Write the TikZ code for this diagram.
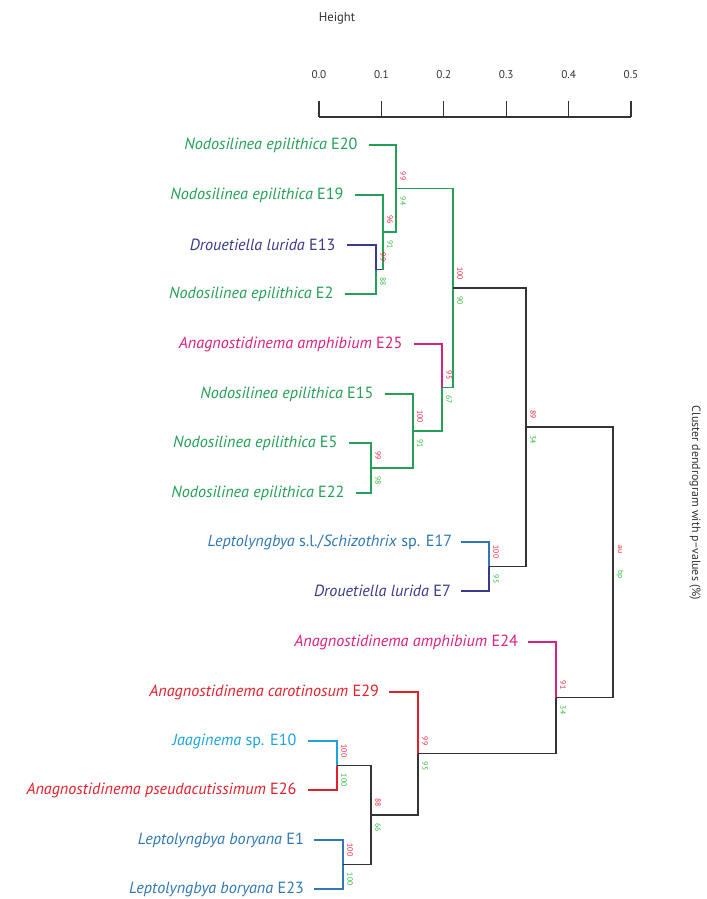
\documentclass[tikz,border=0pt]{standalone}
\usepackage{fontspec}
\setmainfont{PT Sans}
\usetikzlibrary{positioning, calc}

\definecolor{nodogreen}{HTML}{23A055}
\definecolor{droublue}{HTML}{3A3A8C}
\definecolor{anamag}{HTML}{D9217F}
\definecolor{leptoblue}{HTML}{2F78B8}
\definecolor{anared}{HTML}{E3202A}
\definecolor{jaacyan}{HTML}{1AA3DC}
\definecolor{trunk}{HTML}{333333}
\definecolor{aured}{HTML}{EE1F3A}
\definecolor{bpgreen}{HTML}{2DBE3A}

\tikzset{
  leaf/.style={font=\fontsize{11.5}{13}\selectfont, inner sep=0pt},
  branch/.style={line width=1.1pt},
  au/.style={text=aured, font=\fontsize{5.5}{6}\selectfont, rotate=-90, anchor=east, inner sep=0pt},
  bp/.style={text=bpgreen, font=\fontsize{5.5}{6}\selectfont, rotate=-90, anchor=west, inner sep=0pt},
  ticklabel/.style={font=\fontsize{8}{9}\selectfont, text=trunk}
}
\newcommand{\pval}[3]{%
  \node[au] (#1au) at ($(#1)+(7,-8)$) {#2};
  \node[bp] (#1bp) at ($(#1)+(7,8)$) {#3};}

\begin{document}
\begin{tikzpicture}[x=0.025cm, y=-0.025cm]
        \fill[white] (0,0) rectangle (707,899);
        \useasboundingbox (0,0) rectangle (707,899);

        % axis
        \node[ticklabel, font=\fontsize{9}{10}\selectfont] (height) at (337,18) {Height};
        \draw[trunk, line width=0.8pt] (319,117) -- (631,117);
        \foreach \t in {0,...,5}{
            \coordinate (t\t) at (319+62.4*\t,117);
            \draw[trunk, line width=0.8pt] (t\t) -- ++(0,-16);
            \node[ticklabel] (tl\t) at (319+62.4*\t,75) {0.\t};
        }
        \node[font=\fontsize{8.5}{10}\selectfont, text=trunk, rotate=-90] (title) at (695,503) {Cluster dendrogram with p−values (\%)};

        % leaves
        \coordinate (e20) at (369,145);
        \coordinate (e19) at (355,195);
        \coordinate (e13) at (347,245);
        \coordinate (e2) at (345,294);
        \coordinate (e25) at (414,344);
        \coordinate (e15) at (385,394);
        \coordinate (e5) at (349,443);
        \coordinate (e22) at (356,493);
        \coordinate (e17) at (461,542);
        \coordinate (e7) at (461,591);
        \coordinate (e24) at (528,642);
        \coordinate (e29) at (389,692);
        \coordinate (e10) at (308,741);
        \coordinate (e26) at (308,790);
        \coordinate (e1) at (314,840);
        \coordinate (e23) at (314,889);

        \node[leaf, text=nodogreen, left=8pt of e20] (le20) {\textit{Nodosilinea epilithica} E20};
        \node[leaf, text=nodogreen, left=8pt of e19] (le19) {\textit{Nodosilinea epilithica} E19};
        \node[leaf, text=droublue, left=8pt of e13] (le13) {\textit{Drouetiella lurida} E13};
        \node[leaf, text=nodogreen, left=8pt of e2] (le2) {\textit{Nodosilinea epilithica} E2};
        \node[leaf, text=anamag, left=8pt of e25] (le25) {\textit{Anagnostidinema amphibium} E25};
        \node[leaf, text=nodogreen, left=8pt of e15] (le15) {\textit{Nodosilinea epilithica} E15};
        \node[leaf, text=nodogreen, left=8pt of e5] (le5) {\textit{Nodosilinea epilithica} E5};
        \node[leaf, text=nodogreen, left=8pt of e22] (le22) {\textit{Nodosilinea epilithica} E22};
        \node[leaf, text=leptoblue, left=6pt of e17] (le17) {\textit{Leptolyngbya} s.l./\textit{Schizothrix} sp. E17};
        \node[leaf, text=droublue, left=7pt of e7] (le7) {\textit{Drouetiella lurida} E7};
        \node[leaf, text=anamag, left=7pt of e24] (le24) {\textit{Anagnostidinema amphibium} E24};
        \node[leaf, text=anared, left=7pt of e29] (le29) {\textit{Anagnostidinema carotinosum} E29};
        \node[leaf, text=jaacyan, left=8pt of e10] (le10) {\textit{Jaaginema} sp. E10};
        \node[leaf, text=anared, left=8pt of e26] (le26) {\textit{Anagnostidinema pseudacutissimum} E26};
        \node[leaf, text=leptoblue, left=7pt of e1] (le1) {\textit{Leptolyngbya boryana} E1};
        \node[leaf, text=leptoblue, left=7pt of e23] (le23) {\textit{Leptolyngbya boryana} E23};

        % merges
        \coordinate (nA) at (376,269.5);
        \coordinate (nB) at (383,232.2);
        \coordinate (nC) at (396,188.6);
        \coordinate (nD) at (371,468);
        \coordinate (nE) at (413,431);
        \coordinate (nF) at (442,387.5);
        \coordinate (nG) at (453,288);
        \coordinate (nH) at (489,566.5);
        \coordinate (nI) at (526,427);
        \coordinate (nJ) at (337,765.5);
        \coordinate (nK) at (343,864.5);
        \coordinate (nL) at (371,815);
        \coordinate (nM) at (418,753.5);
        \coordinate (nN) at (556,697.7);
        \coordinate (nR) at (613,562);

        \draw[branch, droublue] (e13) -| (nA);
        \draw[branch, nodogreen] (e2) -| (nA);
        \draw[branch, nodogreen] (e19) -| (nB);
        \draw[branch, droublue] (nA) -- (nA -| nB);
        \draw[branch, nodogreen] (nA -| nB) -- (nB);
        \draw[branch, nodogreen] (e20) -| (nC);
        \draw[branch, nodogreen] (nB) -| (nC);
        \draw[branch, nodogreen] (e5) -| (nD);
        \draw[branch, nodogreen] (e22) -| (nD);
        \draw[branch, nodogreen] (e15) -| (nE);
        \draw[branch, nodogreen] (nD) -| (nE);
        \draw[branch, anamag] (e25) -| (nF);
        \draw[branch, nodogreen] (nE) -| (nF);
        \draw[branch, nodogreen] (nC) -| (nG);
        \draw[branch, nodogreen] (nF) -| (nG);
        \draw[branch, leptoblue] (e17) -| (nH);
        \draw[branch, droublue] (e7) -| (nH);
        \draw[branch, trunk] (nG) -| (nI);
        \draw[branch, trunk] (nH) -| (nI);
        \draw[branch, jaacyan] (e10) -| (nJ);
        \draw[branch, anared] (e26) -| (nJ);
        \draw[branch, leptoblue] (e1) -| (nK);
        \draw[branch, leptoblue] (e23) -| (nK);
        \draw[branch, trunk] (nJ) -| (nL);
        \draw[branch, trunk] (nK) -| (nL);
        \draw[branch, anared] (e29) -| (nM);
        \draw[branch, trunk] (nL) -| (nM);
        \draw[branch, anamag] (e24) -| (nN);
        \draw[branch, trunk] (nM) -| (nN);
        \draw[branch, trunk] (nI) -| (nR);
        \draw[branch, trunk] (nN) -| (nR);

        % p-values
        \pval{nA}{99}{88}
        \pval{nB}{96}{91}
        \pval{nC}{99}{94}
        \pval{nD}{99}{98}
        \pval{nE}{100}{91}
        \pval{nF}{95}{67}
        \pval{nG}{100}{90}
        \pval{nH}{100}{95}
        \pval{nI}{89}{34}
        \pval{nJ}{100}{100}
        \pval{nK}{100}{100}
        \pval{nL}{88}{66}
        \pval{nM}{99}{95}
        \pval{nN}{91}{34}
        \pval{nR}{au}{bp}
\end{tikzpicture}
\end{document}
